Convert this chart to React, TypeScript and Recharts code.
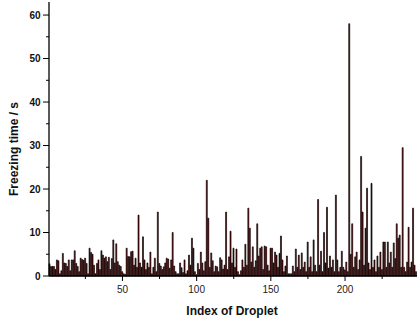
import { BarChart, Bar, XAxis, YAxis, Label } from 'recharts';

// freezing time (s) for droplets 1..248
const freezingTimes = [
  2.8, 2.2, 2.2, 2.2, 1.5, 3.7, 3.5, 0.5, 1.2, 5.2,
  3.0, 2.9, 2.2, 3.7, 1.2, 3.7, 3.7, 5.8, 2.9, 2.2,
  1.0, 4.1, 3.8, 3.6, 4.1, 2.9, 0.5, 6.4, 5.4, 5.0,
  2.5, 0.5, 2.9, 3.7, 1.5, 5.8, 4.8, 4.1, 4.4, 3.3,
  4.3, 1.5, 4.0, 8.3, 3.0, 7.4, 3.3, 2.5, 2.2, 1.0,
  0.5, 0.4, 6.4, 4.5, 4.4, 5.6, 5.7, 2.5, 4.1, 2.0,
  14.0, 3.0, 2.0, 9.0, 3.7, 1.5, 3.0, 2.0, 5.5, 0.5,
  2.0, 4.1, 1.0, 14.7, 2.9, 2.3, 1.5, 2.1, 3.0, 4.1,
  3.9, 1.8, 3.7, 10.0, 2.3, 1.0, 0.5, 0.5, 3.0, 1.9,
  0.8, 3.7, 0.5, 1.2, 4.8, 2.5, 8.7, 6.4, 1.0, 0.3,
  2.9, 1.5, 5.5, 3.0, 1.2, 3.3, 22.0, 13.3, 2.0, 5.3,
  3.5, 1.0, 2.3, 2.1, 1.0, 4.2, 3.7, 1.6, 2.5, 14.7,
  1.5, 4.4, 10.3, 3.0, 6.4, 2.0, 6.2, 1.0, 0.3, 1.2,
  3.7, 2.0, 7.3, 2.5, 15.6, 11.0, 3.2, 6.7, 2.0, 3.5,
  12.0, 4.6, 6.4, 6.7, 1.5, 6.9, 6.7, 2.5, 1.2, 6.4,
  6.4, 3.0, 5.5, 4.8, 2.0, 5.2, 9.2, 3.7, 1.0, 2.3,
  4.6, 0.5, 0.5, 0.5, 2.3, 1.0, 6.2, 2.0, 4.8, 1.5,
  5.3, 2.0, 3.2, 1.0, 7.8, 2.0, 4.4, 1.0, 8.3, 2.5,
  1.0, 17.6, 2.5, 5.7, 1.0, 10.0, 3.0, 15.8, 1.8, 4.6,
  2.0, 3.7, 1.0, 18.6, 3.7, 1.0, 2.0, 5.7, 2.0, 1.4,
  3.2, 1.0, 58.0, 5.0, 12.0, 2.0, 4.4, 5.5, 1.5, 3.7,
  27.5, 14.7, 2.5, 11.0, 20.2, 3.0, 1.5, 21.3, 2.0, 3.7,
  1.0, 4.6, 2.0, 5.5, 1.5, 7.8, 7.8, 2.0, 7.8, 3.0,
  5.5, 2.0, 7.6, 4.0, 12.0, 8.7, 9.4, 2.0, 29.5, 2.0,
  1.0, 3.2, 11.2, 2.0, 3.2, 15.6, 2.5, 1.0,
];

const xTicks = [25, 50, 75, 100, 125, 150, 175, 200, 225];
const xLabelTicks = [50, 100, 150, 200];
const yTicks = [0, 5, 10, 15, 20, 25, 30, 35, 40, 45, 50, 55, 60];
const yLabelTicks = [0, 10, 20, 30, 40, 50, 60];

const data = freezingTimes.map((t, i) => ({ index: i + 1, time: t }));

const FONT = 'Arial, "Liberation Sans", sans-serif';

function XTick(props: any) {
  const { x, y, payload } = props;
  const axisY = y - 10;
  const labelled = xLabelTicks.includes(payload.value);
  return (
    <g>
      <line x1={x} x2={x} y1={axisY} y2={axisY + (labelled ? 5 : 3)} stroke="#000" strokeWidth={1} />
      {labelled && (
        <text x={x} y={y} dy="0.71em" textAnchor="middle" fontSize={10} fill="#222" fontFamily={FONT}>
          {payload.value}
        </text>
      )}
    </g>
  );
}

function YTick(props: any) {
  const { x, y, payload } = props;
  const axisX = x + 8;
  const labelled = yLabelTicks.includes(payload.value);
  return (
    <g>
      <line x1={axisX} x2={axisX - (labelled ? 6 : 3)} y1={y} y2={y} stroke="#000" strokeWidth={1} />
      {labelled && (
        <text x={axisX - 8.5} y={y} dy="0.355em" textAnchor="end" fontSize={10} fontWeight="bold" fill="#111" fontFamily={FONT}>
          {payload.value}
        </text>
      )}
    </g>
  );
}

function XTitle(props: any) {
  const vb = props.viewBox || { x: 49, y: 276, width: 368, height: 46 };
  return (
    <text x={vb.x + vb.width / 2 - 1} y={vb.y + vb.height - 7} textAnchor="middle" fontSize={12} fontWeight="bold" fill="#111" fontFamily={FONT}>
      Index of Droplet
    </text>
  );
}

function YTitle(props: any) {
  const vb = props.viewBox || { x: 0, y: 2, width: 49, height: 274 };
  const cx = vb.x + 14;
  const cy = vb.y + vb.height / 2 + 10;
  return (
    <text x={cx} y={cy} dy="0.35em" transform={`rotate(-90 ${cx} ${cy})`} textAnchor="middle" fontSize={12} fontWeight="bold" fill="#111" fontFamily={FONT}>
      Freezing time / s
    </text>
  );
}

export default function App() {
  return (
    <div style={{ position: 'absolute', left: 0, top: 0, width: 417, height: 322, background: '#fff' }}>
      <BarChart
        width={417}
        height={322}
        data={data}
        margin={{ top: 2, right: 0, bottom: 0, left: 0 }}
        barCategoryGap={0}
        barGap={0}
      >
        <XAxis
          dataKey="index"
          type="category"
          ticks={xTicks}
          interval={0}
          height={46}
          tickSize={5}
          tickMargin={5}
          tickLine={false}
          tick={<XTick />}
          axisLine={{ stroke: '#000', strokeWidth: 1.3 }}
        >
          <Label content={<XTitle />} />
        </XAxis>
        <YAxis
          type="number"
          domain={[0, 63]}
          ticks={yTicks}
          interval={0}
          width={49}
          tickSize={5}
          tickMargin={3}
          tickLine={false}
          tick={<YTick />}
          axisLine={{ stroke: '#000', strokeWidth: 1.3 }}
        >
          <Label content={<YTitle />} />
        </YAxis>
        <Bar dataKey="time" fill="#700000" stroke="#000" strokeWidth={0.65} isAnimationActive={false} />
      </BarChart>
    </div>
  );
}
